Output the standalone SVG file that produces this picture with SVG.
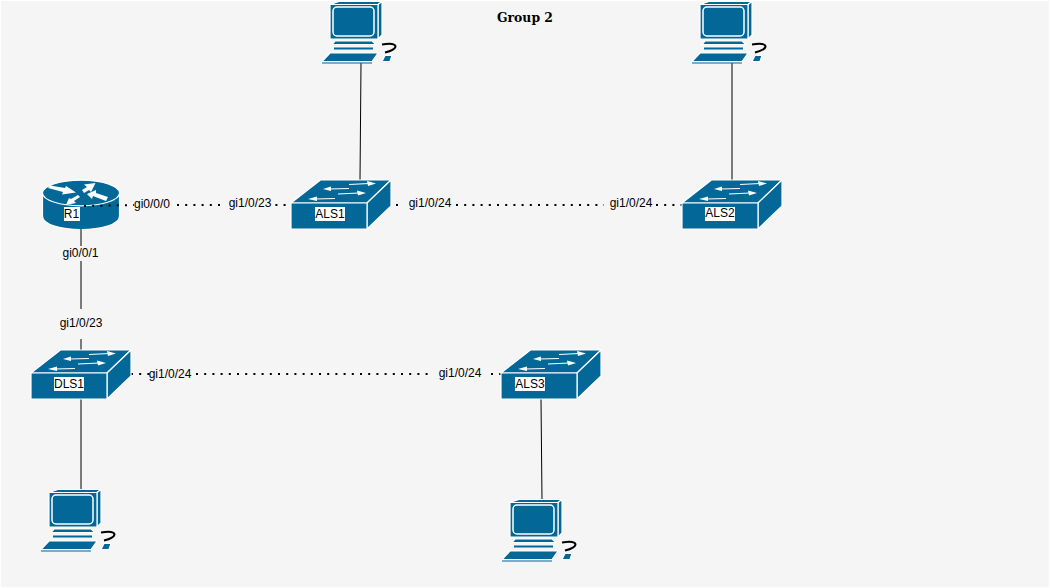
<svg xmlns="http://www.w3.org/2000/svg" width="1050" height="588" viewBox="0 0 1050 588">
<style>
text{font-family:"Liberation Sans",Arial,sans-serif;font-size:12px;fill:#000;text-anchor:middle}
.t{font-family:"DejaVu Serif",serif;font-weight:bold;font-size:12.400px}
.l{fill:#f5f5f5}
.w{fill:#fff}
.solid{stroke:#000;stroke-width:1;fill:none}
.dot{stroke:#000;stroke-width:2;fill:none;stroke-dasharray:2 6.200}
.b{fill:#036897;stroke:#fff;stroke-width:1.200;stroke-linejoin:round}
.a{fill:none;stroke:#fff;stroke-width:1.100}
.f{fill:#fff}
</style>
<defs>
<symbol id="sw" overflow="visible">
<path class="b" d="M0 23 L29.500 0 L100 0 L76 23 Z"/>
<path class="b" d="M76 23 L100 0 L100 26 L76 49 Z"/>
<rect class="b" x="0" y="23" width="76" height="26"/>
<path class="a" d="M58 4.500 L78 3.500 M38 9 L58 8.500 M47 14 L68 13 M24 19 L44 18.500"/>
<path class="f" d="M85 3.500 L76 1 L77 6 Z M32 9 L40 6.500 L40 11 Z M75 13 L66 10.500 L67 15.500 Z M17 19 L26 16.500 L26 21 Z"/>
</symbol>
<symbol id="pc" overflow="visible">
<path class="b" d="M9 3.500 L18 0.500 L61 0.500 L57 3.500 Z"/>
<path class="b" d="M57 3.500 L61 0.500 L61 34 L57 38 Z"/>
<rect class="b" x="9" y="3.500" width="48" height="34.500"/>
<rect x="12" y="6" width="41" height="29" rx="4" fill="#036897" stroke="#fff" stroke-width="1.500"/>
<path class="b" d="M11 43.500 L14 40 L51 40 L55 43.500 Z"/>
<path d="M13 47.500 L52 47.500" stroke="#036897" stroke-width="1.800"/>
<path class="b" d="M1 60.500 L9 52 L57 52 L51 60.500 Z"/>
<path d="M1 62 L51 62" stroke="#036897" stroke-width="1.200"/>
<path class="b" d="M61 60.500 L64 54.500 L71 54.500 L69 60.500 Z"/>
<path d="M61 43.500 Q74 41.500 74.500 45.500 Q74 49 64 51.500" fill="none" stroke="#000" stroke-width="2"/>
</symbol>
</defs>
<rect width="1050" height="588" fill="#fff"/>
<rect x="1" y="1" width="1048" height="586" fill="#f5f5f5"/>
<g id="R1">
<path class="b" d="M42.500 194 V216 C42.500 225 62 229.500 81 229.500 C100 229.500 119.500 225 119.500 216 V194 Z"/>
<ellipse class="b" cx="81" cy="193" rx="38.500" ry="12.800"/>
<path class="f" d="M48 188 L50 185.500 L65 188 L66 186 L76 192.500 L62 194.500 L63 192 Z"/>
<path class="f" d="M82 190 L87 187 L84 184.500 L95.500 183 L91 192 L89 190 L84 193 Z"/>
<path class="f" d="M87 194 L96 190 L96 193 L108 197 L106 201 L93 196 L92 199 Z"/>
<path class="f" d="M66 205 L69 198 L71 199 L78 195 L80 197 L74 201 L76 203 Z"/>
<rect class="w" x="64" y="207" width="16" height="14"/><text x="71.500" y="217.500">R1</text>
</g>
<g id="connectors">
<path class="solid" d="M361 63 L360 180"/>
<path class="solid" d="M732 63 L732 180"/>
<path class="solid" d="M81 229 L81 350"/>
<path class="solid" d="M81 399 L81 490"/>
<path class="solid" d="M541 399 L542 500"/>
<path class="dot" d="M84 206 L134 205 M177 205 L291 205"/>
<path class="dot" d="M396 205 L398 205 M456 205 L604 205 M656 205 L682 205"/>
<path class="dot" d="M131 374 L151 374 M196 374 L430 374 M491 374 L501 374"/>
</g>
<g id="edge-labels">
<rect class="l" x="134" y="196" width="42" height="15"/><text x="152" y="208">gi0/0/0</text>
<rect class="l" x="223" y="196" width="52" height="15"/><text x="250" y="207">gi1/0/23</text>
<rect class="l" x="405" y="196" width="50" height="15"/><text x="430" y="207">gi1/0/24</text>
<rect class="l" x="606" y="196" width="49" height="15"/><text x="631" y="207">gi1/0/24</text>
<rect class="l" x="62" y="246" width="38" height="15"/><text x="80.500" y="257">gi0/0/1</text>
<rect class="l" x="58" y="309" width="46" height="30"/><text x="81" y="327">gi1/0/23</text>
<text x="170" y="378">gi1/0/24</text>
<rect class="l" x="432" y="366" width="56" height="15"/><text x="460" y="377">gi1/0/24</text>
</g>
<g id="title"><text class="t" x="525" y="22">Group 2</text></g>
<g id="ALS1"><use href="#sw" x="291" y="180"/><rect class="w" x="315" y="207" width="30" height="14"/><text x="330" y="218">ALS1</text></g>
<g id="ALS2"><use href="#sw" x="682" y="180"/><rect class="w" x="705" y="207" width="30" height="14"/><text x="720" y="217">ALS2</text></g>
<g id="DLS1"><use href="#sw" x="31" y="350"/><rect class="w" x="54" y="377" width="30" height="14"/><text x="69" y="388">DLS1</text></g>
<g id="ALS3"><use href="#sw" x="501" y="350"/><rect class="w" x="515" y="377" width="30" height="14"/><text x="530" y="388">ALS3</text></g>
<g id="PC1"><use href="#pc" x="321" y="1"/></g>
<g id="PC2"><use href="#pc" x="691" y="1"/></g>
<g id="PC3"><use href="#pc" x="40" y="489"/></g>
<g id="PC4"><use href="#pc" x="501" y="499"/></g>
</svg>
